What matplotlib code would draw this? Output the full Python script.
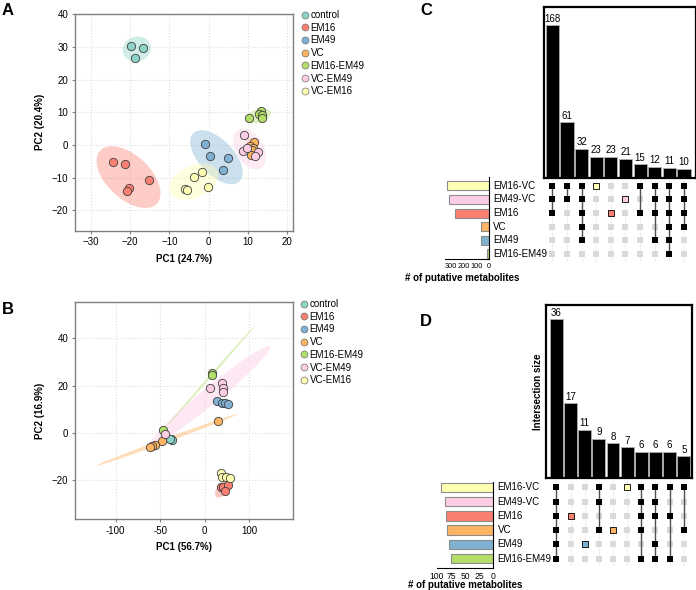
import numpy as np
import matplotlib
matplotlib.use('Agg')
import matplotlib.pyplot as plt
from matplotlib.lines import Line2D
import matplotlib.transforms as mtransforms

plt.rcParams['font.family'] = ['Liberation Sans', 'DejaVu Sans']

# ---------------- data ----------------
groups = ['control', 'EM16', 'EM49', 'VC', 'EM16-EM49', 'VC-EM49', 'VC-EM16']
group_colors = ['#8DD3C7', '#FB8072', '#80B1D3', '#FDB462', '#B3DE69', '#FCCDE5', '#FFFFB3']

# Panel A (PCA)
a_control_pc1 = [-19.8, -16.8, -18.8]
a_control_pc2 = [30.2, 29.8, 26.7]
a_em16_pc1 = [-24.3, -21.4, -15.3, -20.3, -20.9]
a_em16_pc2 = [-5.3, -5.7, -10.7, -13.1, -14.0]
a_em49_pc1 = [-0.9, 0.4, 4.9, 3.5]
a_em49_pc2 = [0.3, -3.3, -4.1, -7.7]
a_vc_pc1 = [11.5, 10.5, 11.2, 10.9, 10.7]
a_vc_pc2 = [1.0, -0.3, -0.8, -1.6, -3.1]
a_em16em49_pc1 = [13.2, 12.9, 13.6, 13.6, 10.3]
a_em16em49_pc2 = [10.5, 9.5, 9.1, 8.2, 8.4]
a_vcem49_pc1 = [9.0, 8.8, 9.7, 12.4, 11.8]
a_vcem49_pc2 = [3.1, -1.7, -1.0, -2.2, -3.4]
a_vcem16_pc1 = [-1.6, -3.8, -0.3, -6.0, -5.6]
a_vcem16_pc2 = [-8.1, -9.7, -12.8, -13.4, -13.8]
a_xlabel = 'PC1 (24.7%)'
a_ylabel = 'PC2 (20.4%)'
a_xticks = [-30, -20, -10, 0, 10, 20]
a_yticks = [-20, -10, 0, 10, 20, 30, 40]
# ellipses: centre, end of major axis, minor/major ratio (group order)
a_ell_cx = [-18.3, -20.4, 1.95, 11.0, 12.6, 10.4, -3.8]
a_ell_cy = [29.4, -9.8, -3.7, -1.3, 8.9, -1.2, -11.2]
a_ell_ex = [-14.8, -13.2, 7.8, 11.8, 15.7, 13.3, 2.2]
a_ell_ey = [30.6, -17.9, -11.1, -4.7, 10.1, -7.1, -7.9]
a_ell_ratio = [0.86, 0.56, 0.52, 0.4, 0.53, 0.62, 0.62]

# Panel B (PCA)
b_control_pc1 = [-38.2, -37.1, -39.3]
b_control_pc2 = [-2.5, -3.0, -2.4]
b_em16_pc1 = [18.4, 20.6, 25.8, 23.2]
b_em16_pc2 = [-23.0, -22.8, -22.0, -24.5]
b_em49_pc1 = [13.5, 19.9, 22.8, 25.8]
b_em49_pc2 = [13.5, 12.8, 12.5, 12.3]
b_vc_pc1 = [15.4, -48.3, -55.8, -58.8, -61.8]
b_vc_pc2 = [5.2, -3.5, -5.1, -5.4, -5.9]
b_em16em49_pc1 = [8.6, 7.9, -47.2]
b_em16em49_pc2 = [25.2, 24.4, 1.3]
b_vcem49_pc1 = [6.0, 19.1, 21.0, 21.0, -44.6]
b_vcem49_pc2 = [19.2, 21.0, 18.9, 17.3, -0.6]
b_vcem16_pc1 = [18.7, 19.9, 24.3, 28.1]
b_vcem16_pc2 = [-16.8, -18.7, -18.6, -19.2]
b_xlabel = 'PC1 (56.7%)'
b_ylabel = 'PC2 (16.9%)'
b_xticks = [-100, -50, 0, 50]
b_xticklabels = ['-100', '-50', '0', '100']
b_yticks = [-20, 0, 20, 40]
b_ell_groups = ['EM16-EM49', 'VC-EM49', 'VC', 'EM16']
b_ell_cx = [5.6, 6.0, -42.1, 19.9]
b_ell_cy = [23.6, 15.7, -2.9, -23.8]
b_ell_ex = [57.7, 73.4, 37.1, 26.6]
b_ell_ey = [45.9, 36.5, 8.0, -20.6]
b_ell_ratio = [0.015, 0.11, 0.026, 0.55]

# Panel C (UpSet)
c_sets = ['EM16-VC', 'EM49-VC', 'EM16', 'VC', 'EM49', 'EM16-EM49']
c_set_colors = ['#FFFFB3', '#FCCDE5', '#FB8072', '#FDB462', '#80B1D3', '#B3DE69']
c_set_sizes = [335, 318, 273, 60, 60, 12]
c_inter_sizes = [168, 61, 32, 23, 23, 21, 15, 12, 11, 10]
c_inter_members = [[0, 1, 2], [0, 1], [0, 1, 2, 3, 4], [0], [2], [1], [0, 2],
                   [0, 1, 2, 4], [0, 1, 2, 3, 4, 5], [0, 1, 2, 3]]
c_size_ticks = [0, 100, 200, 300]

# Panel D (UpSet)
d_sets = ['EM16-VC', 'EM49-VC', 'EM16', 'VC', 'EM49', 'EM16-EM49']
d_set_colors = ['#FFFFB3', '#FCCDE5', '#FB8072', '#FDB462', '#80B1D3', '#B3DE69']
d_set_sizes = [93, 85, 84, 82, 78, 75]
d_inter_sizes = [36, 17, 11, 9, 8, 7, 6, 6, 6, 5]
d_inter_members = [[0, 1, 2, 3, 4, 5], [2], [4], [0, 1, 3], [3], [0],
                   [0, 1, 2, 3, 5], [0, 1, 2, 4, 5], [0, 2, 5], [0, 3]]
d_size_ticks = [0, 25, 50, 75, 100]

# ---------------- layout helpers ----------------
W, H = 696, 590
fig = plt.figure(figsize=(W / 100, H / 100), dpi=100)


def rect(l, t, r, b):
    return [l / W, 1 - b / H, (r - l) / W, (b - t) / H]


def draw_ellipse(ax, cx, cy, ex, ey, ratio, color, alpha=0.4):
    T = ax.transData
    c = T.transform((cx, cy))
    e = T.transform((ex, ey))
    u = e - c
    v = ratio * np.array([-u[1], u[0]])
    t = np.linspace(0, 2 * np.pi, 200)
    pts = c + np.outer(np.cos(t), u) + np.outer(np.sin(t), v)
    d = T.inverted().transform(pts)
    ax.fill(d[:, 0], d[:, 1], color=color, alpha=alpha, lw=0, zorder=1)


def style_pca(ax):
    for s in ax.spines.values():
        s.set_color('#808080')
        s.set_linewidth(1.0)
    ax.grid(True, color='#dddddd', linestyle=':', linewidth=0.8)
    ax.set_axisbelow(True)
    ax.tick_params(length=2, color='#808080', labelsize=7, pad=2.5)


def legend(anchor):
    handles = [Line2D([], [], marker='o', linestyle='', markersize=5,
                      markerfacecolor=c, markeredgecolor='#707070', markeredgewidth=0.5)
               for c in group_colors]
    fig.legend(handles, groups, loc='upper left', bbox_to_anchor=anchor, frameon=False,
               fontsize=7, handlelength=0.8, handletextpad=0.2, labelspacing=0.28,
               borderaxespad=0, borderpad=0)


# ---------------- Panel A ----------------
axA = fig.add_axes(rect(74.7, 14, 293.3, 230.7))
axA.set_xlim(-34.1, 21.5)
axA.set_ylim(-26.2, 40.1)
style_pca(axA)
axA.set_xticks(a_xticks)
axA.set_yticks(a_yticks)
a_pts = [(a_control_pc1, a_control_pc2), (a_em16_pc1, a_em16_pc2), (a_em49_pc1, a_em49_pc2),
         (a_vc_pc1, a_vc_pc2), (a_em16em49_pc1, a_em16em49_pc2), (a_vcem49_pc1, a_vcem49_pc2),
         (a_vcem16_pc1, a_vcem16_pc2)]
for i, col in enumerate(group_colors):
    draw_ellipse(axA, a_ell_cx[i], a_ell_cy[i], a_ell_ex[i], a_ell_ey[i], a_ell_ratio[i], col)
for i, (xs, ys) in enumerate(a_pts):
    axA.scatter(xs, ys, s=36, color=group_colors[i], edgecolors='#404040', linewidths=0.6, zorder=3)
axA.set_xlabel(a_xlabel, fontsize=7, fontweight='bold', labelpad=5)
axA.set_ylabel(a_ylabel, fontsize=7, fontweight='bold', labelpad=5)
legend((301 / W, 1 - 10 / H))

# ---------------- Panel B ----------------
axB = fig.add_axes(rect(74.7, 301.7, 293.3, 519.3))
axB.set_xlim(-146, 99.6)
axB.set_ylim(-36.5, 55.5)
style_pca(axB)
axB.set_xticks(b_xticks)
axB.set_xticklabels(b_xticklabels)
axB.set_yticks(b_yticks)
for g, cx, cy, ex, ey, r in zip(b_ell_groups, b_ell_cx, b_ell_cy, b_ell_ex, b_ell_ey, b_ell_ratio):
    col = group_colors[groups.index(g)]
    draw_ellipse(axB, cx, cy, ex, ey, r, col, alpha=0.45)
b_pts = [(b_control_pc1, b_control_pc2), (b_em16_pc1, b_em16_pc2), (b_em49_pc1, b_em49_pc2),
         (b_vc_pc1, b_vc_pc2), (b_em16em49_pc1, b_em16em49_pc2), (b_vcem49_pc1, b_vcem49_pc2),
         (b_vcem16_pc1, b_vcem16_pc2)]
for i, (xs, ys) in enumerate(b_pts):
    axB.scatter(xs, ys, s=36, color=group_colors[i], edgecolors='#404040', linewidths=0.6, zorder=3)
axB.set_xlabel(b_xlabel, fontsize=7, fontweight='bold', labelpad=5)
axB.set_ylabel(b_ylabel, fontsize=7, fontweight='bold', labelpad=5)
legend((300 / W, 1 - 299 / H))


# ---------------- UpSet ----------------
def draw_upset(bar_rect, bar_xlim, bar_ymax, mat_rect, mat_ylim, set_rect, set_ylim, set_xmax,
               sets, set_colors, set_sizes, inter_sizes, inter_members, size_ticks,
               tick_fs, label_x, label_y, ylabel=None):
    n = len(inter_sizes)
    m = len(sets)
    cols = np.arange(n)
    axb = fig.add_axes(rect(*bar_rect))
    axb.bar(cols, inter_sizes, width=0.9, color='black', edgecolor='#b0b0b0', linewidth=0.6)
    for i, v in enumerate(inter_sizes):
        axb.annotate(str(v), (i, v), xytext=(0, 1), textcoords='offset points',
                     ha='center', va='bottom', fontsize=7)
    axb.set_xlim(*bar_xlim)
    axb.set_ylim(0, bar_ymax)
    axb.set_xticks([])
    axb.set_yticks([])
    for s in axb.spines.values():
        s.set_color('black')
        s.set_linewidth(1.6)
    if ylabel:
        axb.set_ylabel(ylabel, fontsize=7, fontweight='bold', labelpad=2)

    axm = fig.add_axes(rect(*mat_rect))
    axm.set_xlim(*bar_xlim)
    axm.set_ylim(*mat_ylim)
    axm.axis('off')
    for j in cols:
        axm.axvline(j, color='#ececec', lw=0.6, zorder=0)
    xx, yy = np.meshgrid(cols, np.arange(m))
    axm.scatter(xx.ravel(), yy.ravel(), marker='s', s=17, color='#d9d9d9', lw=0, zorder=1)
    for j, mem in enumerate(inter_members):
        if len(mem) == 1:
            axm.scatter([j], mem, marker='s', s=16, color=set_colors[mem[0]],
                        edgecolors='black', linewidths=0.6, zorder=3)
        else:
            axm.plot([j, j], [min(mem), max(mem)], color='#505050', lw=1.0, zorder=2)
            axm.scatter([j] * len(mem), mem, marker='s', s=20, color='black', lw=0, zorder=3)

    axs = fig.add_axes(rect(*set_rect))
    axs.barh(np.arange(m), set_sizes, height=0.66, color=set_colors, edgecolor='#8c8c8c', linewidth=0.8)
    axs.set_xlim(set_xmax, 0)
    axs.set_ylim(*set_ylim)
    axs.spines['left'].set_visible(False)
    axs.spines['top'].set_visible(False)
    axs.spines['right'].set_linewidth(0.8)
    axs.spines['bottom'].set_linewidth(0.8)
    axs.set_yticks([])
    axs.set_xticks(size_ticks)
    axs.tick_params(axis='x', length=0, labelsize=tick_fs, pad=3)
    bt = mtransforms.blended_transform_factory(axs.transAxes, axs.transData)
    shift = bt + mtransforms.ScaledTranslation(3.2 / 72, 0, fig.dpi_scale_trans)
    for i, s in enumerate(sets):
        axs.text(1.0, i, s, transform=shift, ha='left', va='center', fontsize=7,
                 clip_on=False)
    axs.set_xlabel('# of putative metabolites', fontsize=7, fontweight='bold')
    axs.xaxis.set_label_coords(label_x, label_y)
    return axb, axm, axs


draw_upset((544.3, 7.3, 695.7, 177.7), (-0.55, 9.8), 187.5,
           (544.3, 178.5, 695.7, 261.5), (5.55, -0.527),
           (445, 176.7, 489, 259.3), (5.39, -0.66), 350,
           c_sets, c_set_colors, c_set_sizes, c_inter_sizes, c_inter_members, c_size_ticks,
           5.3, 0.38, -0.17)

draw_upset((546, 305, 692.3, 478.3), (-0.73, 9.6), 39.2,
           (546, 480, 692.3, 566), (5.51, -0.51),
           (436.7, 481.7, 493.3, 568.3), (5.67, -0.39), 100.5,
           d_sets, d_set_colors, d_set_sizes, d_inter_sizes, d_inter_members, d_size_ticks,
           6.2, 0.51, -0.14, ylabel='Intersection size')

# panel letters
for lab, x, y in [('A', 2, 3), ('B', 2, 302), ('C', 420, 3), ('D', 420, 314)]:
    fig.text(x / W, 1 - y / H, lab, fontsize=12, fontweight='bold', ha='left', va='top')

fig.savefig('out.png', dpi=100)
